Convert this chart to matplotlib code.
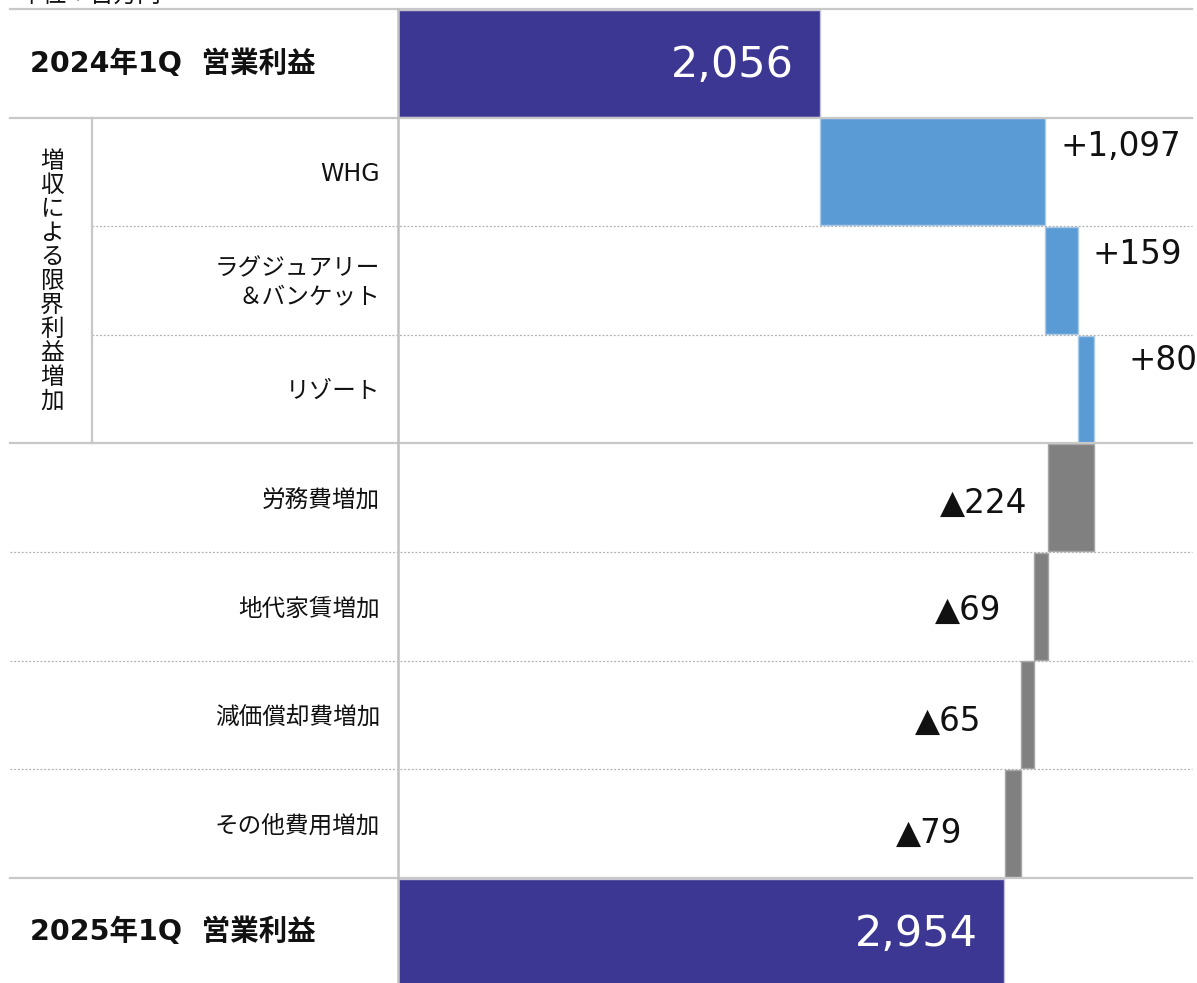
import numpy as np
import matplotlib
matplotlib.use("Agg")
import matplotlib.pyplot as plt
import matplotlib.transforms as mtransforms
from matplotlib.lines import Line2D

plt.rcParams['font.family'] = ['Noto Sans CJK JP', 'DejaVu Sans']
LATIN = ['DejaVu Sans', 'Noto Sans CJK JP']

# data
categories = ["2024年1Q  営業利益", "WHG", "ラグジュアリー\n＆バンケット", "リゾート",
              "労務費増加", "地代家賃増加", "減価償却費増加", "その他費用増加",
              "2025年1Q  営業利益"]
values = [2056, 1097, 159, 80, -224, -69, -65, -79, 2954]
kinds = ["total", "up", "up", "up", "down", "down", "down", "down", "total"]
group_label = "増収による限界利益増加"
unit_label = "単位：百万円"

# styles
W, H = 1197, 983
col = {"total": "#3d3794", "up": "#5b9bd5", "down": "#808080"}
edge = {"total": "#c4c4d4", "up": "#a9cbea", "down": "#a6a6a6"}
up_dx = [15, 15, 34]           # px from bar end
up_dy = [25, 26, 29]           # px above row centre
down_dx = [21, 33, 39, 42]     # px left of bar start
down_dy = [-6, -4, -7, -10]    # px below row centre

fig = plt.figure(figsize=(W / 100, H / 100), dpi=100)
top_px, row_px = 9, 108.6
nrows = len(categories)
ax_left, ax_right = 398, 1192
ax = fig.add_axes([ax_left / W, 1 - (top_px + nrows * row_px) / H,
                   (ax_right - ax_left) / W, nrows * row_px / H])
ax.set_xlim(0, (ax_right - ax_left) / (422 / 2056))
ax.set_ylim(nrows - 0.5, -0.5)
ax.axis("off")

# waterfall geometry
y = np.arange(nrows)
lefts, widths = [], []
run = 0
for v, k in zip(values, kinds):
    if k == "total":
        lefts.append(0)
        widths.append(v)
        run = v
    elif v >= 0:
        lefts.append(run)
        widths.append(v)
        run += v
    else:
        lefts.append(run + v)
        widths.append(-v)
        run += v

for i in range(nrows):
    ax.barh(y[i], widths[i], left=lefts[i], height=0.985, color=col[kinds[i]],
            edgecolor=edge[kinds[i]], linewidth=1, zorder=3)

# grid lines
tr = mtransforms.blended_transform_factory(fig.transFigure, ax.transData)
solid_kw = dict(color="#c8c8c8", lw=1.6, zorder=1)
dot_kw = dict(color="#b0b0b0", lw=0.9, ls=(0, (1.5, 1.5)), zorder=1)
for b in [-0.5, 0.5, 3.5, 7.5]:
    fig.add_artist(Line2D([10 / W, ax_right / W], [b, b], transform=tr, **solid_kw))
for b in [1.5, 2.5]:
    fig.add_artist(Line2D([92 / W, ax_right / W], [b, b], transform=tr, **dot_kw))
for b in [4.5, 5.5, 6.5]:
    fig.add_artist(Line2D([10 / W, ax_right / W], [b, b], transform=tr, **dot_kw))
fig.add_artist(Line2D([92 / W, 92 / W], [0.5, 3.5], transform=tr, **solid_kw))
fig.add_artist(Line2D([ax_left / W, ax_left / W], [-0.5, nrows], transform=tr,
                      color="#c0c0c0", lw=1.8, zorder=2))

# category labels
for i, (c, k) in enumerate(zip(categories, kinds)):
    if k == "total":
        fig.text(30 / W, y[i], c, transform=tr, ha="left", va="center",
                 fontsize=20.5, fontweight="bold", color="#111111", family=LATIN)
    else:
        fig.text(380 / W, y[i] + 0.02, c, transform=tr, ha="right", va="center",
                 fontsize=17, color="#111111", linespacing=1.3,
                 multialignment="right", family=LATIN)

# vertical group label
for j, ch in enumerate(group_label):
    fig.text(52 / W, 1 - (162 + 23.9 * j) / H, ch, ha="center", va="center",
             fontsize=17, color="#111111")

# cut-off unit text at top
fig.text(20 / W, 1 - 2 / H, unit_label, ha="left", va="baseline",
         fontsize=17, color="#111111")

# value labels
ui, di = 0, 0
for i, (v, k) in enumerate(zip(values, kinds)):
    if k == "total":
        ax.annotate(f"{v:,}", (lefts[i] + widths[i], y[i]), xytext=(-26, -2),
                    textcoords="offset pixels", ha="right", va="center",
                    fontsize=31, color="white", zorder=5, family=LATIN)
    elif k == "up":
        ax.annotate(f"+{v:,}", (lefts[i] + widths[i], y[i]), xytext=(up_dx[ui], up_dy[ui]),
                    textcoords="offset pixels", ha="left", va="center",
                    fontsize=23.5, color="#111111", zorder=5, family=LATIN)
        ui += 1
    else:
        ax.annotate(f"▲{-v:,}", (lefts[i], y[i]), xytext=(-down_dx[di], down_dy[di]),
                    textcoords="offset pixels", ha="right", va="center",
                    fontsize=23.5, color="#111111", zorder=5, family=LATIN)
        di += 1

fig.savefig("out.png", dpi=100)
